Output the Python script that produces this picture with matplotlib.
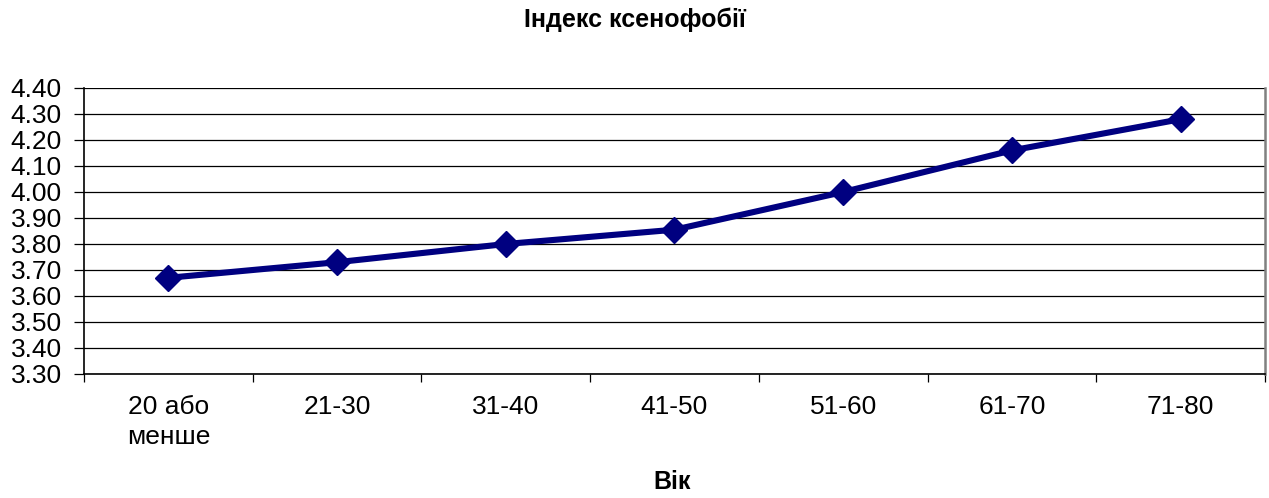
import matplotlib.pyplot as plt
import numpy as np

ages = ["20 або\nменше", "21-30", "31-40", "41-50", "51-60", "61-70", "71-80"]
index_vals = [3.67, 3.73, 3.80, 3.855, 4.00, 4.16, 4.28]
y_ticks = [3.30, 3.40, 3.50, 3.60, 3.70, 3.80, 3.90, 4.00, 4.10, 4.20, 4.30, 4.40]

plt.rcParams['font.family'] = ['Liberation Sans', 'DejaVu Sans']

fig = plt.figure(figsize=(12.69, 4.98), dpi=100)
ax = fig.add_axes([84/1269, 1-374/498, (1265-84)/1269, (374-88)/498])

x = np.arange(len(ages)) + 0.5
ax.plot(x, index_vals, color='#000080', linewidth=4.4, marker='D', markersize=13.5,
        markerfacecolor='#000080', markeredgecolor='#000080', zorder=3)

ax.set_xlim(0, len(ages))
ax.set_ylim(3.30, 4.40)
ax.set_yticks(y_ticks)
ax.set_yticklabels([f'{v:.2f}' for v in y_ticks])
ax.yaxis.grid(True, color='black', linewidth=0.9)
ax.set_axisbelow(True)

# category boundaries as major ticks, labels on minor ticks
ax.set_xticks(np.arange(len(ages) + 1))
ax.set_xticklabels([])
ax.set_xticks(x, minor=True)
ax.set_xticklabels(ages, minor=True, fontsize=19, linespacing=1.3, va='top')
ax.tick_params(axis='x', which='major', direction='out', length=6, width=0.9, color='black')
ax.tick_params(axis='x', which='minor', length=0, pad=15)
ax.tick_params(axis='y', direction='out', length=7, width=0.9, labelsize=19, pad=9)

ax.spines['top'].set_visible(False)
ax.spines['left'].set_color('black')
ax.spines['bottom'].set_color('black')
ax.spines['left'].set_linewidth(1.2)
ax.spines['bottom'].set_linewidth(1.2)
ax.spines['right'].set_color('#808080')
ax.spines['right'].set_linewidth(1.8)

fig.text(635/1269, 1-20/498, "Індекс ксенофобії", ha='center', va='center',
         fontsize=18, fontweight='bold')
fig.text(672/1269, 1-482/498, "Вік", ha='center', va='center',
         fontsize=18, fontweight='bold')

plt.savefig("out.png", dpi=100)
